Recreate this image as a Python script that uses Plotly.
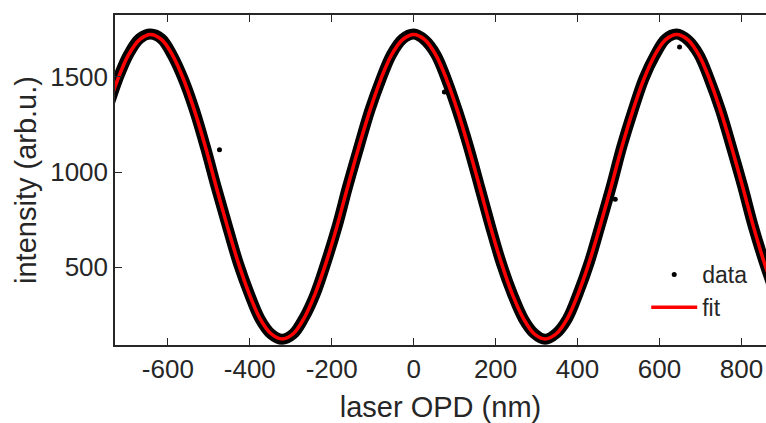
import plotly.graph_objects as go

# Fit curve (laser OPD in nm, intensity in arb.u.)
fit_x = [-749, -722, -696, -669, -642, -615, -589, -562, -535, -508, -482, -455,
         -428, -401, -375, -348, -321, -294, -268, -241, -214, -187, -161, -134,
         -107, -80, -54, -27, 0, 27, 54, 80, 107, 134, 161, 187, 214, 241, 268,
         294, 321, 348, 375, 401, 428, 455, 482, 508, 535, 562, 589, 615, 642,
         669, 696, 722, 749, 776, 803, 829, 856, 883]
fit_y = [1322, 1488, 1615, 1695, 1722, 1695, 1615, 1488, 1322, 1130, 923, 716,
         523, 358, 231, 151, 124, 151, 231, 358, 523, 716, 923, 1130,
         1322, 1488, 1615, 1695, 1722, 1695, 1615, 1488, 1322, 1130, 923, 716, 523, 358, 231,
         151, 124, 151, 231, 358, 523, 716, 923, 1130, 1322, 1488, 1615, 1695, 1722,
         1695, 1615, 1488, 1322, 1130, 923, 716, 523, 358]

# Measured data: dense band following the fit, plus a few stray points
data_x = fit_x
data_y = [1320, 1490, 1617, 1700, 1724, 1698, 1612, 1486, 1324, 1128, 921, 718,
          521, 360, 229, 150, 122, 150, 233, 356, 525, 714, 925, 1128,
          1324, 1486, 1617, 1698, 1724, 1693, 1617, 1486, 1320, 1132, 921, 718, 521, 360, 229,
          153, 122, 153, 229, 360, 521, 718, 921, 1132, 1320, 1490, 1612, 1698, 1724,
          1693, 1617, 1486, 1324, 1128, 925, 714, 525, 356]
stray_x = [-474, 75, 492, 649]
stray_y = [1117, 1420, 857, 1656]

x_ticks = [-600, -400, -200, 0, 200, 400, 600, 800]
y_ticks = [500, 1000, 1500]

FONT = "Liberation Sans, Arial, sans-serif"
AX = "#262626"

fig = go.Figure()
fig.add_trace(go.Scatter(
    x=data_x, y=data_y, mode="lines", name="data band", showlegend=False,
    line=dict(color="black", width=11, shape="spline", smoothing=1.0),
    hoverinfo="skip"))
fig.add_trace(go.Scatter(
    x=stray_x, y=stray_y, mode="markers", name="data",
    marker=dict(color="black", size=5)))
fig.add_trace(go.Scatter(
    x=fit_x, y=fit_y, mode="lines", name="fit",
    line=dict(color="#ff0000", width=3.5, shape="spline", smoothing=1.0)))

fig.update_layout(
    width=766, height=423,
    margin=dict(l=115, r=0, t=15, b=78),
    paper_bgcolor="white", plot_bgcolor="white",
    font=dict(family=FONT, color=AX, size=26),
    showlegend=True,
    legend=dict(x=0.816, y=0.279, xanchor="left", yanchor="top",
                bgcolor="rgba(0,0,0,0)", borderwidth=0,
                font=dict(family=FONT, size=23, color=AX),
                itemwidth=46, tracegroupgap=0),
)
fig.update_xaxes(
    range=[-729, 860], tickvals=x_ticks, ticktext=[str(v) for v in x_ticks],
    ticks="inside", ticklen=7, tickwidth=1.3, tickcolor=AX,
    showline=True, linecolor=AX, linewidth=1.5, mirror="ticks",
    showgrid=False, zeroline=False, automargin=False,
    tickfont=dict(family=FONT, size=26, color=AX),
    title=dict(text="laser OPD (nm)", font=dict(family=FONT, size=29, color=AX), standoff=14),
)
fig.update_yaxes(
    range=[92, 1824], tickvals=y_ticks, ticktext=[str(v) for v in y_ticks],
    ticks="inside", ticklen=7, tickwidth=1.3, tickcolor=AX,
    showline=True, linecolor=AX, linewidth=1.5, mirror=False,
    showgrid=False, zeroline=False, automargin=False,
    tickfont=dict(family=FONT, size=26, color=AX),
    title=dict(text="intensity (arb.u.)", font=dict(family=FONT, size=29, color=AX), standoff=5),
)

fig.write_html("out.html", config={"displayModeBar": False},
               post_script="document.body.style.margin='0px';")
